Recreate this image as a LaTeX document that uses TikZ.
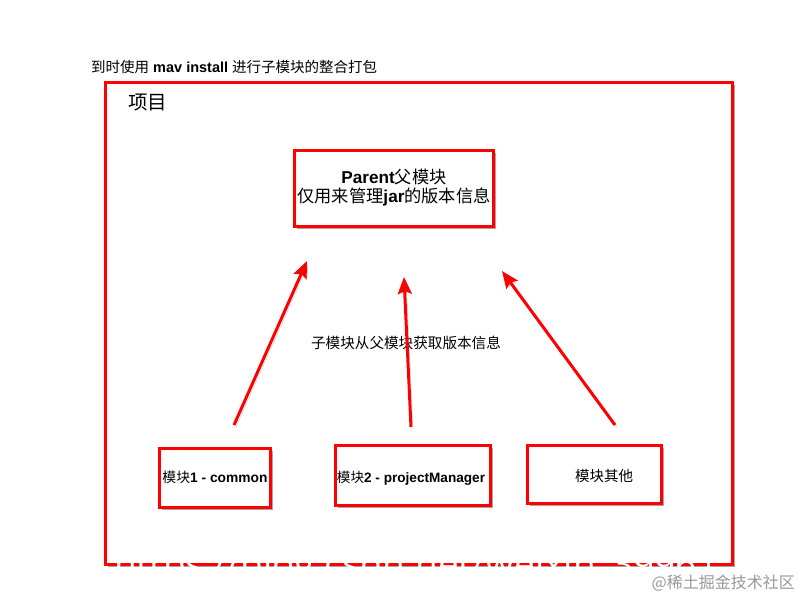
\documentclass[tikz,border=0pt]{standalone}
\usepackage{fontspec}
\setmainfont{Liberation Sans}
\newfontfamily\cjk{Noto Sans CJK SC}
\newfontfamily\wmfont{Open Sans}
\usetikzlibrary{shadows,arrows.meta}
\begin{document}
\begin{tikzpicture}[x=1pt,y=-1pt,
  shad/.style={drop shadow={shadow xshift=2.5pt, shadow yshift=-2.5pt, opacity=0.5, fill=black!70}},
  box/.style={draw=red, line width=3pt, fill=white, shad, rectangle, inner sep=0pt, align=center},
  lbl/.style={inner sep=0pt, text=black, align=center},
  arr/.style={draw=red, line width=3pt, -{Stealth[length=17pt,width=14pt,inset=3pt]},
    preaction={draw=black!40, opacity=0.5, transform canvas={xshift=2pt,yshift=-2pt}}}
]
\useasboundingbox[fill=white] (0,0) rectangle (800,600);

% outer frame
\node[box, minimum width=627, minimum height=482] (frame) at (418.5,323.5) {};
\node[lbl, anchor=west, font=\fontsize{19.5}{21}\selectfont\cjk] (proj) at (128,103) {项目};
\node[lbl, anchor=west, font=\fontsize{14.5}{16}\selectfont] (title) at (91,67)
  {{\cjk 到时使用} \textbf{mav install} {\cjk 进行子模块的整合打包}};

% parent
\node[box, minimum width=199, minimum height=76] (parent) at (394,188.5) {};
\node[lbl, font=\fontsize{17.2}{18.5}\selectfont] (ptext) at (394,187.5)
  {\textbf{Parent}{\cjk 父模块}\\{\cjk 仅用来管理}\textbf{jar}{\cjk 的版本信息}};

% modules
\node[box, minimum width=111, minimum height=59] (m1) at (215,478) {};
\node[lbl, font=\fontsize{13.8}{15}\selectfont] (m1t) at (215,477) {{\cjk 模块}\textbf{1 - common}};
\node[box, minimum width=155, minimum height=60] (m2) at (413,475.5) {};
\node[lbl, font=\fontsize{13.6}{15}\selectfont] (m2t) at (411,478) {{\cjk 模块}\textbf{2 - projectManager}};
\node[box, minimum width=134, minimum height=58] (m3) at (594.5,474.5) {};
\node[lbl, font=\fontsize{14.5}{16}\selectfont\cjk] (m3t) at (604,476) {模块其他};

% middle label
\node[lbl, font=\fontsize{14.6}{16}\selectfont\cjk] (mid) at (406,343) {子模块从父模块获取版本信息};

% arrows
\coordinate (a1s) at (234,425); \coordinate (a1e) at (307,261);
\coordinate (a2s) at (411,427); \coordinate (a2e) at (404,277);
\coordinate (a3s) at (615,425); \coordinate (a3e) at (502,271);
\draw[arr] (a1s) -- (a1e);
\draw[arr] (a2s) -- (a2e);
\draw[arr] (a3s) -- (a3e);

% watermarks
\node[lbl, anchor=base west, text=white, font=\fontsize{37}{39}\selectfont\wmfont] (wm1) at (114,577) {https://blog.csdn.net/weixin\_39961};
\node[lbl, anchor=east, text=black!40, font=\fontsize{16}{18}\selectfont\cjk] (wm2) at (795,583) {@稀土掘金技术社区};
\end{tikzpicture}
\end{document}
